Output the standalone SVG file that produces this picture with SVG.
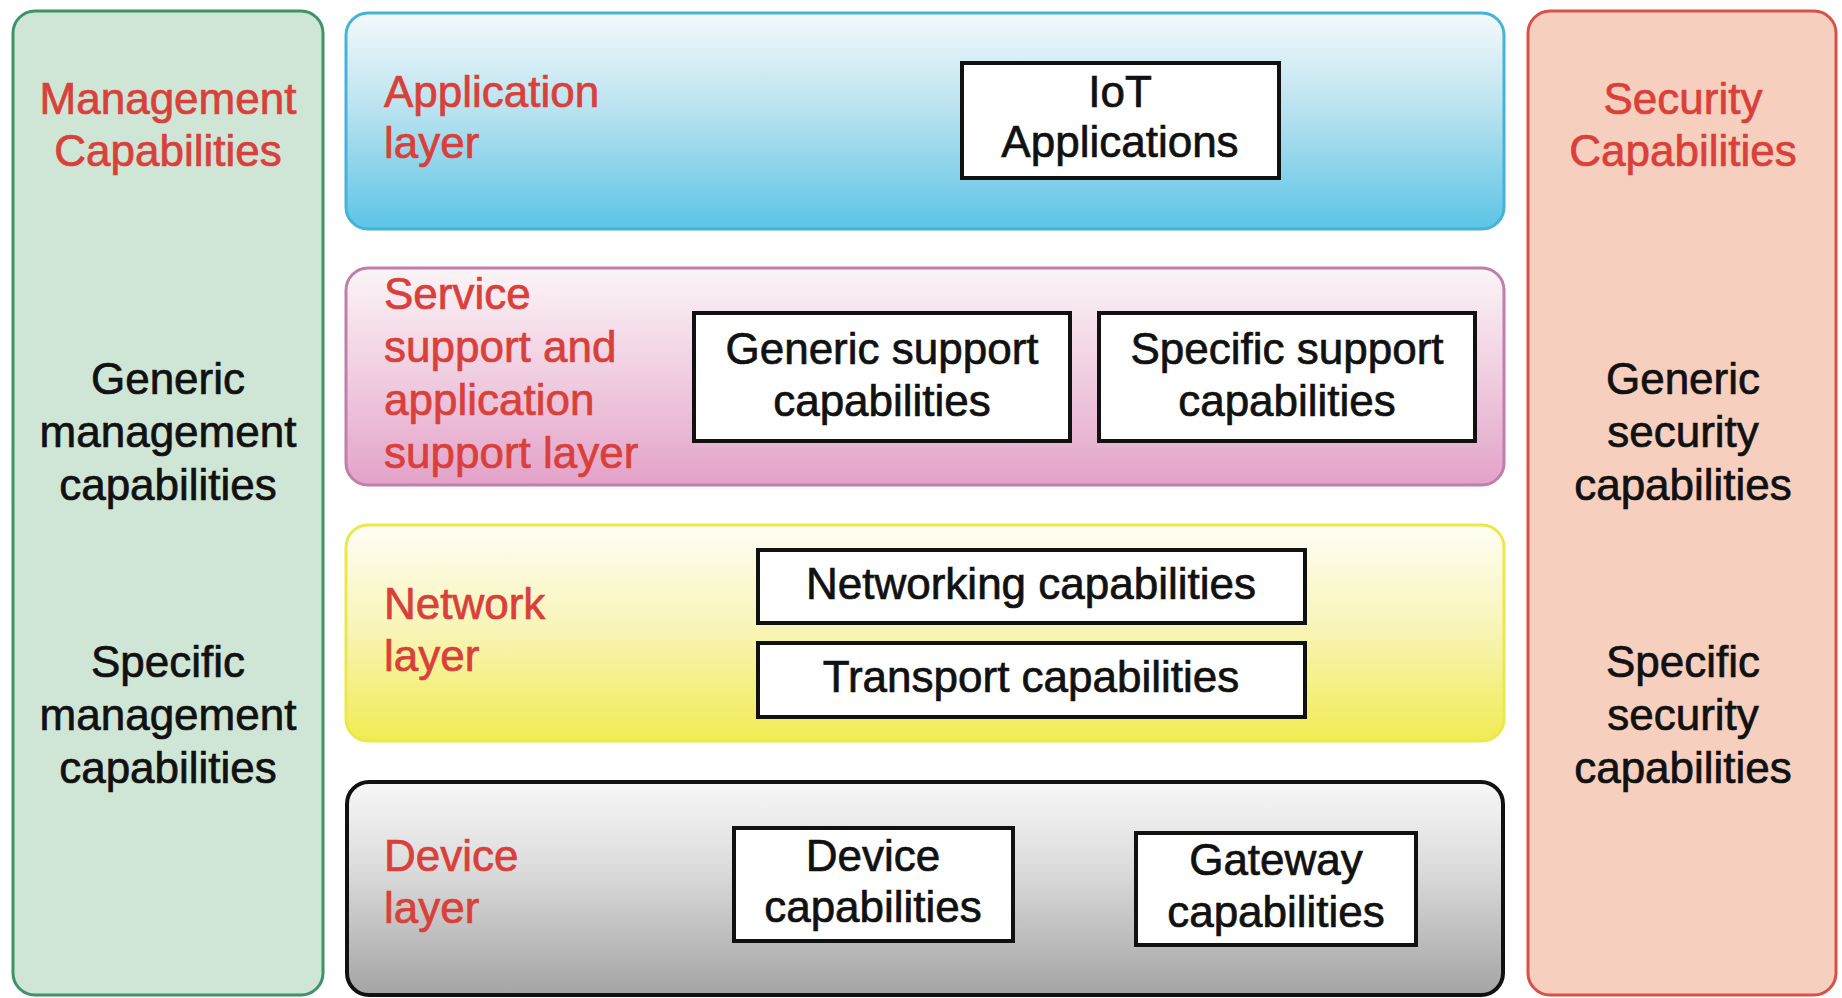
<svg xmlns="http://www.w3.org/2000/svg" width="1842" height="998" viewBox="0 0 1842 998">
<defs>
<linearGradient id="gApp" x1="0" y1="0" x2="0" y2="1"><stop offset="0" stop-color="#f3f9fb"/><stop offset="0.45" stop-color="#b9e2ef"/><stop offset="1" stop-color="#5cc4e6"/></linearGradient>
<linearGradient id="gSvc" x1="0" y1="0" x2="0" y2="1"><stop offset="0" stop-color="#fbf4f7"/><stop offset="0.5" stop-color="#f0cde0"/><stop offset="1" stop-color="#e3a2c9"/></linearGradient>
<linearGradient id="gNet" x1="0" y1="0" x2="0" y2="1"><stop offset="0" stop-color="#fefdf4"/><stop offset="0.5" stop-color="#f8f4b4"/><stop offset="1" stop-color="#f1eb52"/></linearGradient>
<linearGradient id="gDev" x1="0" y1="0" x2="0" y2="1"><stop offset="0" stop-color="#f7f7f7"/><stop offset="0.4" stop-color="#dcdcdc"/><stop offset="1" stop-color="#a4a4a4"/></linearGradient>
<style>
text{font-family:"Liberation Sans",Arial,sans-serif;font-size:44px;stroke-width:0.7px}
.red{fill:#d9403a;stroke:#d9403a}
.blk{fill:#111;stroke:#111}
.c{text-anchor:middle}
.box{fill:#fff;stroke:#111;stroke-width:4}
</style>
</defs>
<rect width="1842" height="998" fill="#fff"/>

<g id="management">
<rect x="13" y="11" width="310" height="984" rx="22" fill="#cfe5d6" stroke="#3d9467" stroke-width="3"/>
<text class="red c" x="168" y="114">Management</text>
<text class="red c" x="168" y="166">Capabilities</text>
<text class="blk c" x="168" y="394">Generic</text>
<text class="blk c" x="168" y="447">management</text>
<text class="blk c" x="168" y="500">capabilities</text>
<text class="blk c" x="168" y="677">Specific</text>
<text class="blk c" x="168" y="730">management</text>
<text class="blk c" x="168" y="783">capabilities</text>
</g>

<g id="security">
<rect x="1528" y="11" width="308" height="984" rx="22" fill="#f6cfbf" stroke="#d9504a" stroke-width="3"/>
<text class="red c" x="1683" y="114">Security</text>
<text class="red c" x="1683" y="166">Capabilities</text>
<text class="blk c" x="1683" y="394">Generic</text>
<text class="blk c" x="1683" y="447">security</text>
<text class="blk c" x="1683" y="500">capabilities</text>
<text class="blk c" x="1683" y="677">Specific</text>
<text class="blk c" x="1683" y="730">security</text>
<text class="blk c" x="1683" y="783">capabilities</text>
</g>

<g id="application-layer">
<rect x="346" y="13" width="1158" height="216" rx="22" fill="url(#gApp)" stroke="#45b2da" stroke-width="3"/>
<text class="red" x="384" y="107">Application</text>
<text class="red" x="384" y="158">layer</text>
</g>
<g id="iot-applications">
<rect class="box" x="962" y="63" width="317" height="115"/>
<text class="blk c" x="1120" y="107">IoT</text>
<text class="blk c" x="1120" y="157">Applications</text>
</g>

<g id="service-layer">
<rect x="346" y="268" width="1158" height="217" rx="22" fill="url(#gSvc)" stroke="#c07fab" stroke-width="3"/>
<text class="red" x="384" y="309">Service</text>
<text class="red" x="384" y="362">support and</text>
<text class="red" x="384" y="415">application</text>
<text class="red" x="384" y="468">support layer</text>
</g>
<g id="generic-support">
<rect class="box" x="694" y="313" width="376" height="128"/>
<text class="blk c" x="882" y="364">Generic support</text>
<text class="blk c" x="882" y="416">capabilities</text>
</g>
<g id="specific-support">
<rect class="box" x="1099" y="313" width="376" height="128"/>
<text class="blk c" x="1287" y="364">Specific support</text>
<text class="blk c" x="1287" y="416">capabilities</text>
</g>

<g id="network-layer">
<rect x="346" y="525" width="1158" height="216" rx="22" fill="url(#gNet)" stroke="#ebe84a" stroke-width="3"/>
<text class="red" x="384" y="619">Network</text>
<text class="red" x="384" y="671">layer</text>
</g>
<g id="networking">
<rect class="box" x="758" y="550" width="547" height="73"/>
<text class="blk c" x="1031" y="599">Networking capabilities</text>
</g>
<g id="transport">
<rect class="box" x="758" y="643" width="547" height="74"/>
<text class="blk c" x="1031" y="692">Transport capabilities</text>
</g>

<g id="device-layer">
<rect x="347" y="782" width="1156" height="213" rx="22" fill="url(#gDev)" stroke="#111" stroke-width="4"/>
<text class="red" x="384" y="871">Device</text>
<text class="red" x="384" y="923">layer</text>
</g>
<g id="device-capabilities">
<rect class="box" x="734" y="828" width="279" height="113"/>
<text class="blk c" x="873" y="871">Device</text>
<text class="blk c" x="873" y="922">capabilities</text>
</g>
<g id="gateway-capabilities">
<rect class="box" x="1136" y="833" width="280" height="112"/>
<text class="blk c" x="1276" y="875">Gateway</text>
<text class="blk c" x="1276" y="927">capabilities</text>
</g>

<g id="connectors"></g>
</svg>
